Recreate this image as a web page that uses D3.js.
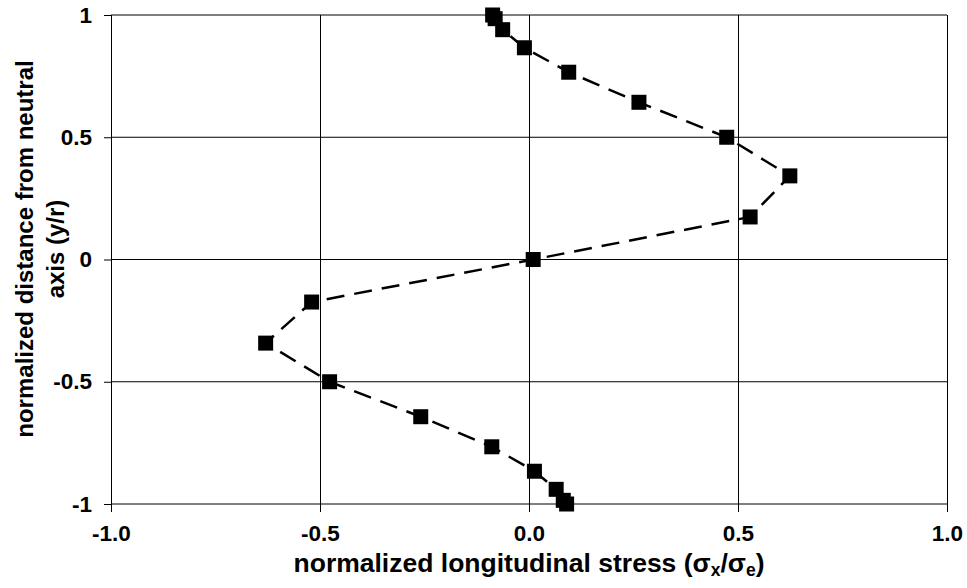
<!DOCTYPE html>
<html>
<head>
<meta charset="utf-8">
<script src="https://cdn.jsdelivr.net/npm/d3@7"></script>
<style>
  html, body { margin: 0; padding: 0; background: #fff; }
  svg { display: block; }
  text { font-family: "Liberation Sans", Arial, sans-serif; font-weight: bold; fill: #000; }
</style>
</head>
<body>
<svg id="chart" width="967" height="588"></svg>
<script>
// ---- data ----
const yValues = [1, 0.985, 0.940, 0.866, 0.766, 0.643, 0.5, 0.342, 0.174, 0,
                 -0.174, -0.342, -0.5, -0.643, -0.766, -0.866, -0.940, -0.985, -1];
const xValues = [-0.087, -0.081, -0.063, -0.011, 0.095, 0.263, 0.473, 0.624, 0.529, 0.010,
                 -0.520, -0.630, -0.477, -0.259, -0.089, 0.013, 0.065, 0.082, 0.090];
const xTicks = [-1.0, -0.5, 0.0, 0.5, 1.0];
const xTickLabels = ["-1.0", "-0.5", "0.0", "0.5", "1.0"];
const yTicks = [-1, -0.5, 0, 0.5, 1];
const yTickLabels = ["-1", "-0.5", "0", "0.5", "1"];
const xTitle = "normalized longitudinal stress";
const yTitleLines = ["normalized distance from neutral", "axis (y/r)"];

// ---- layout ----
const svg = d3.select("#chart");
const plotL = 111, plotR = 947, plotT = 15, plotB = 504;
const x = d3.scaleLinear().domain([-1, 1]).range([plotL, plotR]);
const y = d3.scaleLinear().domain([-1, 1]).range([plotB, plotT]);

// gridlines
const grid = svg.append("g");
grid.selectAll("line.h").data(yTicks).enter().append("line")
  .attr("x1", plotL).attr("x2", plotR)
  .attr("y1", d => y(d)).attr("y2", d => y(d))
  .attr("stroke", "#000").attr("stroke-width", 1);
grid.selectAll("line.v").data(xTicks).enter().append("line")
  .attr("x1", d => Math.round(x(d)) + 0.5).attr("x2", d => Math.round(x(d)) + 0.5)
  .attr("y1", plotT).attr("y2", plotB)
  .attr("stroke", "#000").attr("stroke-width", 1);

// axes
const xAxis = d3.axisBottom(x).tickValues(xTicks).tickSize(8)
  .tickFormat((d, i) => xTickLabels[i]).tickPadding(14);
const gx = svg.append("g").attr("transform", `translate(0,${plotB})`).call(xAxis);
gx.select(".domain").remove();
gx.selectAll(".tick line").attr("stroke", "#000");
gx.selectAll(".tick text").attr("font-size", 22.5).attr("font-family", "Liberation Sans, Arial, sans-serif")
  .attr("font-weight", "bold").attr("fill", "#000").attr("dy", "0.68em");

const yAxis = d3.axisLeft(y).tickValues(yTicks).tickSize(7)
  .tickFormat((d, i) => yTickLabels[i]).tickPadding(12);
const gy = svg.append("g").attr("transform", `translate(${plotL},0)`).call(yAxis);
gy.select(".domain").remove();
gy.selectAll(".tick line").attr("stroke", "#000");
gy.selectAll(".tick text").attr("font-size", 22.5).attr("font-family", "Liberation Sans, Arial, sans-serif")
  .attr("font-weight", "bold").attr("fill", "#000");

// x title
const xt = svg.append("text").attr("x", (plotL + plotR) / 2).attr("y", 572)
  .attr("text-anchor", "middle").attr("font-size", 26.5);
xt.append("tspan").text(xTitle + " (σ");
xt.append("tspan").attr("font-size", 17.5).attr("dy", 4).text("x");
xt.append("tspan").attr("dy", -4).text("/σ");
xt.append("tspan").attr("font-size", 17.5).attr("dy", 4).text("e");
xt.append("tspan").attr("dy", -4).text(")");

// y title
const yt = svg.append("text").attr("transform", "translate(33,249) rotate(-90)")
  .attr("text-anchor", "middle").attr("font-size", 24);
yt.selectAll("tspan").data(yTitleLines).enter().append("tspan")
  .attr("x", 0).attr("dy", (d, i) => i === 0 ? 0 : 31).text(d => d);

// series line
const line = d3.line().x((d, i) => x(xValues[i])).y((d, i) => y(yValues[i]));
svg.append("path").datum(yValues).attr("d", line)
  .attr("fill", "none").attr("stroke", "#000").attr("stroke-width", 2.5)
  .attr("stroke-dasharray", "18,10");

// markers
const m = 15;
svg.selectAll("rect.pt").data(yValues).enter().append("rect")
  .attr("class", "pt")
  .attr("x", (d, i) => x(xValues[i]) - m / 2)
  .attr("y", d => y(d) - m / 2)
  .attr("width", m).attr("height", m).attr("fill", "#000");
</script>
</body>
</html>
